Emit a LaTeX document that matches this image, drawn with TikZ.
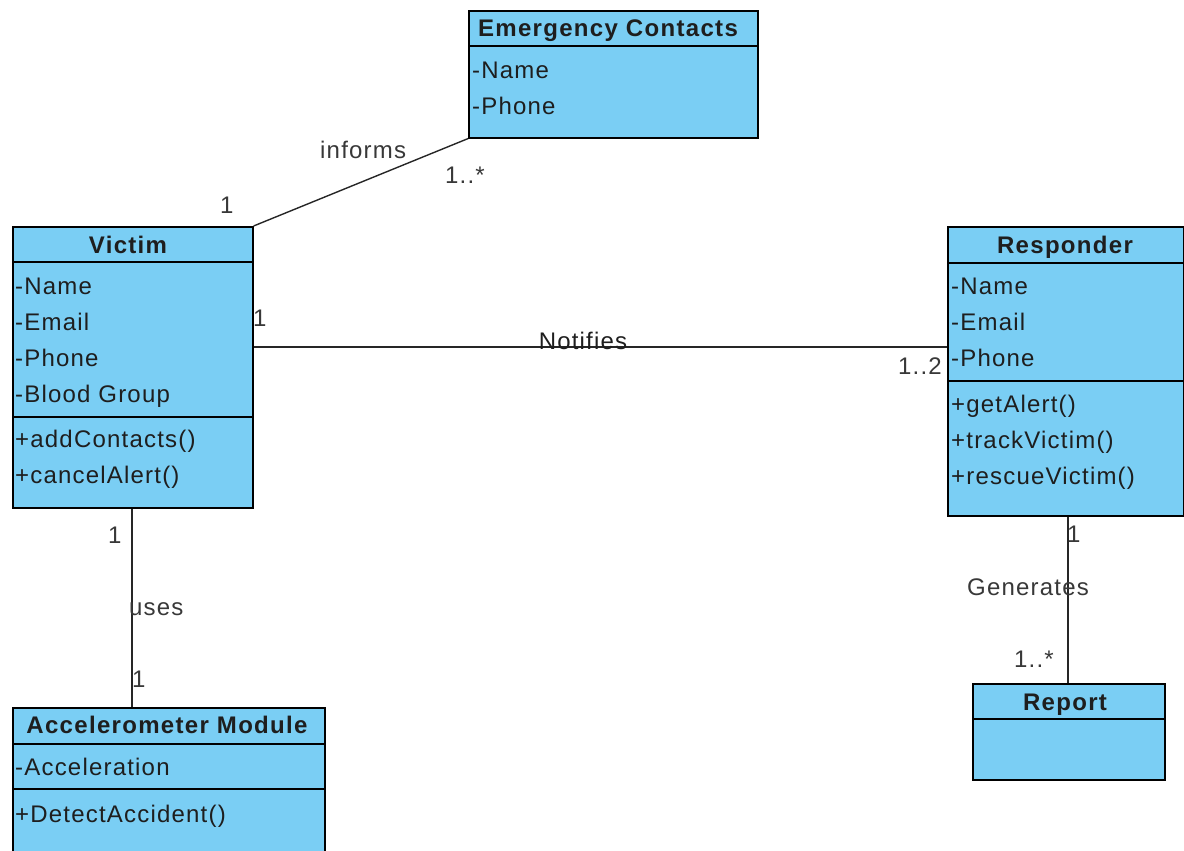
\documentclass[tikz,border=0pt]{standalone}
\usepackage{fontspec}
\setmainfont[LetterSpace=5.5]{Liberation Sans}
\newfontfamily\memberfamily[LetterSpace=5]{Liberation Sans}
\usetikzlibrary{calc}
\definecolor{classfill}{HTML}{7ACEF4}
\definecolor{ink}{HTML}{1E1E1E}
\definecolor{labelink}{HTML}{383838}

\begin{document}
\begin{tikzpicture}[x=1pt,y=-1pt,
  cls/.style={draw=black, fill=classfill, line width=1.6pt, inner sep=0pt, anchor=north west},
  sep/.style={line width=1.6pt},
  assoc/.style={line width=1.4pt, draw=black!85},
  ttl/.style={anchor=base, inner sep=0pt, font=\fontsize{24}{28}\selectfont\bfseries, text=ink},
  mem/.style={anchor=base west, inner sep=0pt, font=\fontsize{24}{28}\selectfont\memberfamily, text=ink},
  lbl/.style={anchor=base west, inner sep=0pt, font=\fontsize{24}{28}\selectfont\memberfamily, text=labelink}]
\useasboundingbox (0,0) rectangle (1184,851);

% ---- Emergency Contacts ----
\node[cls, minimum width=289pt, minimum height=127pt] (ec) at (468,10) {};
\draw[sep] ([yshift=-36pt]ec.north west) -- ([yshift=-36pt]ec.north east);
\node[ttl] (ecT) at (608,37) {Emergency Contacts};
\node[mem] (ec1) at (472,79) {-Name};
\node[mem] (ec2) at (472,114) {-Phone};

% ---- Victim ----
\node[cls, minimum width=240pt, minimum height=281pt] (victim) at (12,226) {};
\draw[sep] ([yshift=-36pt]victim.north west) -- ([yshift=-36pt]victim.north east);
\draw[sep] ([yshift=-191pt]victim.north west) -- ([yshift=-191pt]victim.north east);
\node[ttl] (vT) at (128,253) {Victim};
\node[mem] (v1) at (15,294) {-Name};
\node[mem] (v2) at (15,330) {-Email};
\node[mem] (v3) at (15,366) {-Phone};
\node[mem] (v4) at (15,402) {-Blood Group};
\node[mem] (v5) at (15,447) {+addContacts()};
\node[mem] (v6) at (15,483) {+cancelAlert()};

% ---- Responder ----
\node[cls, minimum width=236pt, minimum height=289pt] (resp) at (947,226) {};
\draw[sep] ([yshift=-37pt]resp.north west) -- ([yshift=-37pt]resp.north east);
\draw[sep] ([yshift=-155pt]resp.north west) -- ([yshift=-155pt]resp.north east);
\node[ttl] (rT) at (1065,253) {Responder};
\node[mem] (r1) at (951,294) {-Name};
\node[mem] (r2) at (951,330) {-Email};
\node[mem] (r3) at (951,366) {-Phone};
\node[mem] (r4) at (951,412) {+getAlert()};
\node[mem] (r5) at (951,448) {+trackVictim()};
\node[mem] (r6) at (951,484) {+rescueVictim()};

% ---- Accelerometer Module ----
\node[cls, minimum width=312pt, minimum height=170pt] (accel) at (12,707) {};
\draw[sep] ([yshift=-37pt]accel.north west) -- ([yshift=-37pt]accel.north east);
\draw[sep] ([yshift=-82pt]accel.north west) -- ([yshift=-82pt]accel.north east);
\node[ttl] (aT) at (167,733) {Accelerometer Module};
\node[mem] (a1) at (15,775) {-Acceleration};
\node[mem] (a2) at (15,822) {+DetectAccident()};

% ---- Report ----
\node[cls, minimum width=192pt, minimum height=96pt] (report) at (972,683) {};
\draw[sep] ([yshift=-36pt]report.north west) -- ([yshift=-36pt]report.north east);
\node[ttl] (repT) at (1065,710) {Report};

% ---- Associations ----
\coordinate (ny) at (0,347);
\coordinate (ux) at (132,0);
\coordinate (gx) at (1068,0);
\draw[assoc] (victim.north east) -- (ec.south west);
\draw[assoc] (victim.east |- ny) -- (resp.west |- ny);
\draw[assoc] (ux |- victim.south) -- (ux |- accel.north);
\draw[assoc] (gx |- resp.south) -- (gx |- report.north);

% ---- Association labels and multiplicities ----
\node[lbl] (m1) at (220,213) {1};
\node[lbl] (inf) at (320,158) {informs};
\node[lbl] (m2) at (445,183) {1..*};
\node[lbl] (m3) at (253,326) {1};
\node[lbl, anchor=base, text=ink] (nt) at (583,349) {Notifies};
\node[lbl, anchor=base east] (m4) at (942,374) {1..2};
\node[lbl] (m5) at (108,543) {1};
\node[lbl] (us) at (129,615) {uses};
\node[lbl] (m6) at (132,687) {1};
\node[lbl] (m7) at (1067,542) {1};
\node[lbl] (gen) at (967,595) {Generates};
\node[lbl] (m8) at (1014,667) {1..*};
\end{tikzpicture}
\end{document}
